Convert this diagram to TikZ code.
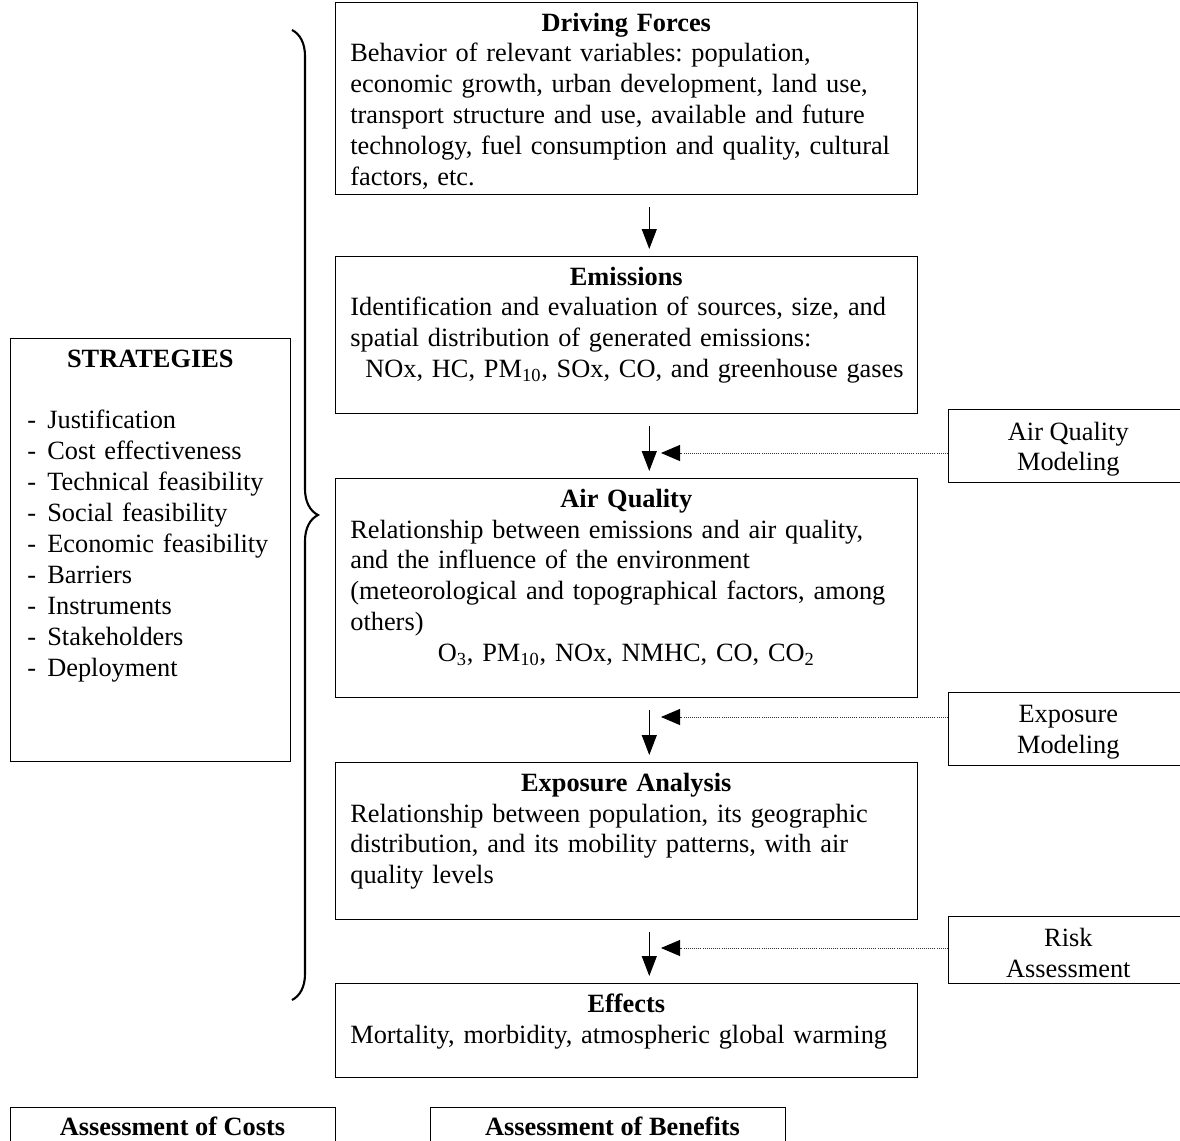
\documentclass[tikz,border=0pt]{standalone}
\usepackage{fontspec}
\setmainfont{Liberation Serif}
\usetikzlibrary{arrows.meta, positioning, decorations.pathreplacing}
\usetikzlibrary{calc}

\begin{document}
\frenchspacing
\begin{tikzpicture}[
    x=0.02cm, y=-0.02cm,
    every node/.style={font=\fontsize{15pt}{17.6pt}\selectfont},
    stage/.style={draw, rectangle, anchor=north west, text width=11.04cm, inner xsep=0.3cm, inner ysep=0.1cm, align=left},
    tool/.style={draw, rectangle, anchor=west, minimum width=4.8cm, minimum height=1.26cm, align=center},
    summary/.style={draw, rectangle, minimum height=0.74cm, font=\fontsize{15pt}{17.6pt}\selectfont\bfseries},
    arrow/.style={-{Triangle[length=0.4cm, width=0.3cm]}, semithick, shorten <=0.24cm, shorten >=0.14cm},
    feed/.style={-{Triangle[length=0.38cm, width=0.32cm, color=black]}, line width=0.5pt, dash pattern=on 0.5pt off 0.7pt, black!80}
]
\useasboundingbox (0,0) rectangle (1180,1140);
\clip (0,0) rectangle (1180,1140);

% Main chain
\node[stage] (drive) at (335,2) {{\centering\rule{0pt}{13.5pt}\textbf{Driving Forces}\par}
Behavior of relevant variables: population,\\
economic growth, urban development, land use,\\
transport structure and use, available and future\\
technology, fuel consumption and quality, cultural\\
factors, etc.\\[-0.06cm]};
\node[stage] (emis) at (335,256) {{\centering\rule{0pt}{13.5pt}\textbf{Emissions}\par}
Identification and evaluation of sources, size, and\\
spatial distribution of generated emissions:\\
\hspace*{0.3cm}\mbox{NOx, HC, PM\textsubscript{10}, SOx, CO, and greenhouse gases}\\
\mbox{}};
\node[stage] (air) at (335,478) {{\centering\rule{0pt}{13.5pt}\textbf{Air Quality}\par}
Relationship between emissions and air quality,\\
and the influence of the environment\\
(meteorological and topographical factors, among\\
others)\par
{\centering O\textsubscript{3}, PM\textsubscript{10}, NOx, NMHC, CO, CO\textsubscript{2}\par}
\mbox{}};
\node[stage] (expo) at (335,762) {{\centering\rule{0pt}{13.5pt}\textbf{Exposure Analysis}\par}
Relationship between population, its geographic\\
distribution, and its mobility patterns, with air\\
quality levels\\
\mbox{}};
\node[stage] (eff) at (335,983) {{\centering\rule{0pt}{13.5pt}\textbf{Effects}\par}
Mortality, morbidity, atmospheric global warming\\[-0.04cm]
\mbox{}};

% Strategies
\node[draw, rectangle, anchor=north west, text width=4.92cm, inner xsep=0.34cm, inner ysep=0.1cm, align=left] (strat) at (10,338) {{\centering\rule{0pt}{13.5pt}\textbf{STRATEGIES}\par}
\mbox{}\\
\makebox[0.4cm][l]{-}Justification\\
\makebox[0.4cm][l]{-}Cost effectiveness\\
\makebox[0.4cm][l]{-}Technical feasibility\\
\makebox[0.4cm][l]{-}Social feasibility\\
\makebox[0.4cm][l]{-}Economic feasibility\\
\makebox[0.4cm][l]{-}Barriers\\
\makebox[0.4cm][l]{-}Instruments\\
\makebox[0.4cm][l]{-}Stakeholders\\
\makebox[0.4cm][l]{-}Deployment\\[0.98cm]
\mbox{}};

% Modeling tools
\node[tool] (aqm) at (948,446) {\rule{0pt}{14pt}Air Quality\\Modeling};
\node[tool] (expm) at (948,728.5) {\rule{0pt}{14pt}Exposure\\Modeling};
\node[tool] (risk) at (948,950) {\rule{0pt}{14pt}Risk\\Assessment};

% Assessments
\node[summary, minimum width=6.5cm] (costs) at (172.5,1126) {Assessment of Costs};
\node[summary, minimum width=7.1cm] (benefits) at (607.5,1126) {\hspace*{0.2cm}Assessment of Benefits};

% Arrows
\draw[arrow] ([xshift=0.46cm]drive.south) -- ([xshift=0.46cm]emis.north);
\draw[arrow] ([xshift=0.46cm]emis.south) -- ([xshift=0.46cm]air.north);
\draw[arrow] ([xshift=0.46cm]air.south) -- ([xshift=0.46cm]expo.north);
\draw[arrow] ([xshift=0.46cm]expo.south) -- ([xshift=0.46cm]eff.north);

% Dotted inputs
\coordinate (aqtip) at (661,453);
\coordinate (extip) at (661,717);
\coordinate (rktip) at (661,948);
\draw[feed] (aqm.west |- aqtip) -- (aqtip);
\draw[feed] (expm.west |- extip) -- (extip);
\draw[feed] (risk.west |- rktip) -- (rktip);

% Brace
\draw[decorate, decoration={brace, amplitude=0.52cm}, line width=1.2pt]
    (292,30) -- (292,1000);

\end{tikzpicture}
\end{document}
